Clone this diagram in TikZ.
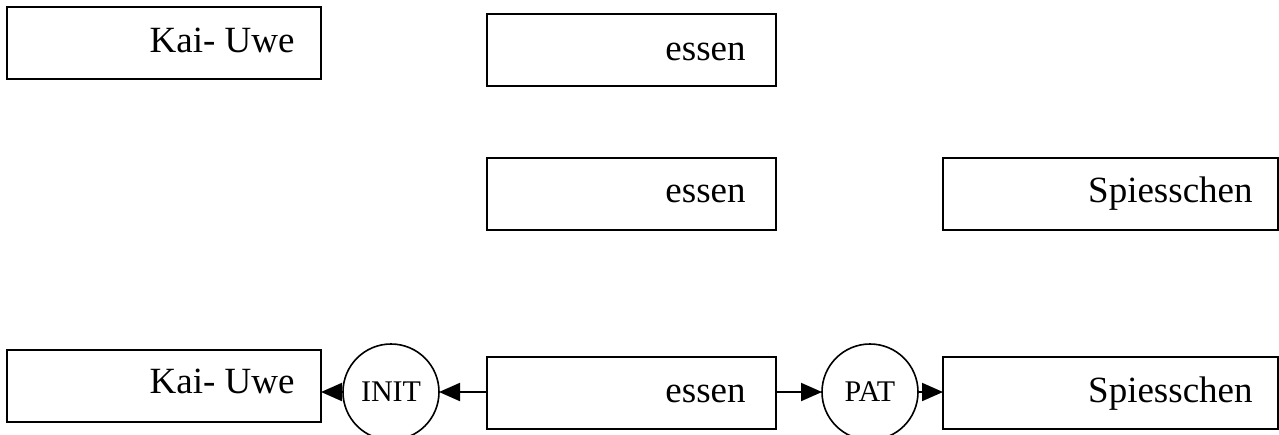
\documentclass[tikz,border=0pt]{standalone}
\usepackage{fontspec}
\setmainfont{Liberation Serif}
\usetikzlibrary{arrows.meta,calc}
\begin{document}
\begin{tikzpicture}[x=0.5pt,y=-0.5pt,
  box/.style={draw=black,line width=1pt,minimum width=#1,minimum height=36pt,inner sep=0pt,outer sep=0pt,anchor=north west},
  lbl/.style={inner sep=0pt,anchor=base east,font=\fontsize{18.5pt}{22pt}\selectfont},
  circ/.style={circle,draw=black,line width=0.8pt,minimum size=48pt,inner sep=0pt,outer sep=0pt,font=\fontsize{15pt}{18pt}\selectfont},
  arr/.style={line width=1pt,-{Triangle[length=10.5pt,width=9pt]}}
]
\clip (0,0) rectangle (1279,434);
\fill[white] (0,0) rectangle (1279,434);
% top row
\node[box=157pt] (k1) at (7,7) {};
\node[lbl] (k1t) at ($(k1.north east)+(-26,45)$) {Kai- Uwe};
\node[box=144.5pt] (e1) at (487,14) {};
\node[lbl] (e1t) at ($(e1.north east)+(-30,46)$) {essen};
% middle row
\node[box=144.5pt] (e2) at (487,158) {};
\node[lbl] (e2t) at ($(e2.north east)+(-30,44)$) {essen};
\node[box=167.5pt] (s2) at (943,158) {};
\node[lbl] (s2t) at ($(s2.north east)+(-25,44)$) {Spiesschen};
% bottom row
\node[box=157pt] (k3) at (7,350) {};
\node[lbl] (k3t) at ($(k3.north east)+(-26,43)$) {Kai- Uwe};
\node[box=144.5pt] (e3) at (487,357) {};
\node[lbl] (e3t) at ($(e3.north east)+(-30,45)$) {essen};
\node[box=167.5pt] (s3) at (943,357) {};
\node[lbl] (s3t) at ($(s3.north east)+(-25,45)$) {Spiesschen};
\node[circ] (i) at (391,392) {INIT};
\node[circ] (p) at (870,392) {PAT};
\draw[arr] (e3.west |- i.center) -- (i.east);
\draw[arr] (i.west) -- (i.west -| k3.east);
\draw[arr] (e3.east |- p.center) -- (p.west);
\draw[arr] (p.east) -- (p.east -| s3.west);
\end{tikzpicture}
\end{document}
